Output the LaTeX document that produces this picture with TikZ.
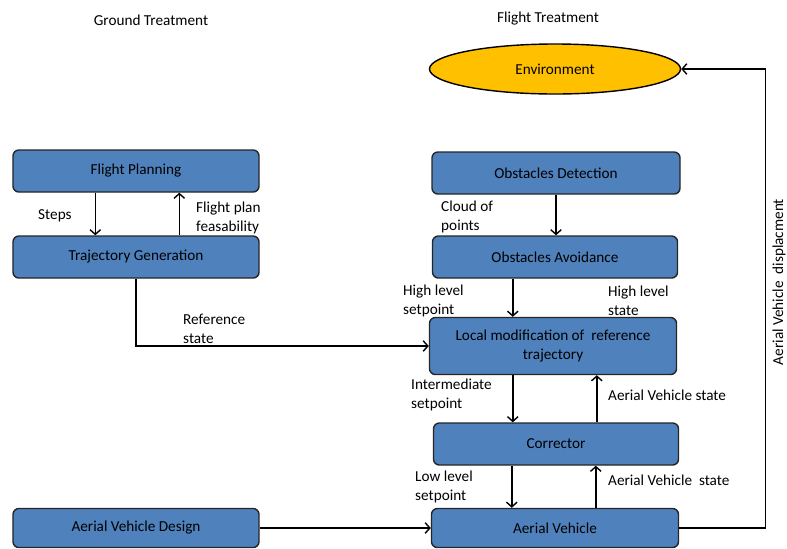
\documentclass[tikz,border=0pt]{standalone}
\usepackage{fontspec}
\setmainfont{Carlito}
\usetikzlibrary{arrows.meta,calc,shapes.geometric}

\definecolor{boxblue}{HTML}{4F81BD}
\definecolor{envyellow}{HTML}{FFC000}

\begin{document}
\begin{tikzpicture}[x=0.03cm,y=-0.03cm,
		font=\fontsize{13}{16.3}\selectfont,
		block/.style={draw=black!85,line width=1.2pt,fill=boxblue,rounded corners=5pt,
			minimum width=7.38cm,minimum height=1.26cm,inner sep=0pt,align=center},
		lbl/.style={anchor=west,align=left,inner sep=0pt},
		arr/.style={line width=1.2pt,-{Straight Barb[length=4pt,width=9pt]}}]
	\useasboundingbox (0,0) rectangle (787,548);
	% headings
	\node (ground) at (151,20) {Ground Treatment};
	\node (flight) at (548,19) {Flight Treatment};
	% ground side
	\node[block] (fp) at (136,171) {Flight Planning};
	\node[block] (tg) at (136,257) {Trajectory Generation};
	\node[block,minimum height=1.17cm] (avd) at (136,528) {Aerial Vehicle Design};
	% flight side
	\node[ellipse,draw=black,line width=1.2pt,fill=envyellow,minimum width=7.53cm,minimum height=1.5cm] (env) at (555,69) {Environment};
	\node[block,minimum width=7.44cm] (od) at (556,173) {Obstacles Detection};
	\node[block,minimum width=7.35cm] (oa) at (555,257) {Obstacles Avoidance};
	\node[block,minimum width=7.41cm,minimum height=1.71cm] (lm) at (553,346) {Local modification of ~reference\\trajectory};
	\node[block,minimum width=7.35cm] (cor) at (556,444) {Corrector};
	\node[block,minimum width=7.41cm,minimum height=1.17cm] (av) at (555,528) {Aerial Vehicle};
	% arrow columns
	\coordinate (c1) at ($(fp.south west)+(83,0)$);
	\coordinate (c2) at ($(fp.south west)+(167,0)$);
	\coordinate (c3) at ($(oa.south west)+(81,0)$);
	\coordinate (c4) at ($(lm.south west)+(84,0)$);
	\coordinate (c5) at ($(lm.south west)+(168,0)$);
	\coordinate (c6) at ($(cor.south west)+(79,0)$);
	\coordinate (c7) at ($(cor.south west)+(163,0)$);
	% connectors
	\draw[arr] (c1) -- (c1 |- tg.north);
	\draw[arr] (c2 |- tg.north) -- (c2);
	\draw[arr] (od.south) -- (od.south |- oa.north);
	\draw[arr] (c3) -- (c3 |- lm.north);
	\draw[arr] (tg.south) |- (lm.west);
	\draw[arr] (c4) -- (c4 |- cor.north);
	\draw[arr] (c5 |- cor.north) -- (c5);
	\draw[arr] (c6) -- (c6 |- av.north);
	\draw[arr] (c7 |- av.north) -- (c7);
	\draw[arr] (avd.east) -- (av.west);
	\draw[arr] (av.east) -- ++(86,0) |- (env.east);
	% labels
	\node[lbl] (steps) at (38,216) {Steps};
	\node[lbl] (feas) at (196,218) {Flight plan\\feasability};
	\node[lbl] (cloud) at (441,217) {Cloud of\\points};
	\node[lbl] (hlsp) at (403,301) {High level\\setpoint};
	\node[lbl] (hlst) at (608,301) {High level\\state};
	\node[lbl] (ref) at (183,329) {Reference\\state};
	\node[lbl] (inter) at (411,395) {Intermediate\\setpoint};
	\node[lbl] (avst) at (608,395) {Aerial Vehicle state};
	\node[lbl] (llsp) at (415,487) {Low level\\setpoint};
	\node[lbl] (avst2) at (608,480) {Aerial Vehicle ~state};
	\node[rotate=90,inner sep=0pt] (disp) at (779,282) {Aerial Vehicle ~displacment};
\end{tikzpicture}
\end{document}
